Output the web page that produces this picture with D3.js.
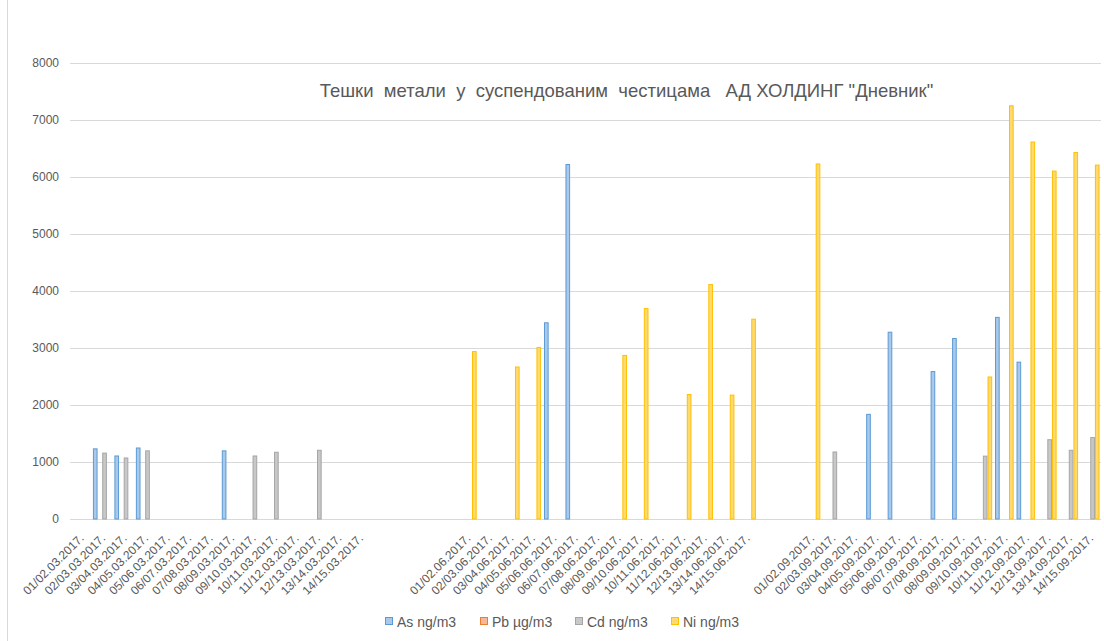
<!DOCTYPE html>
<html><head><meta charset="utf-8">
<script src="https://cdn.jsdelivr.net/npm/d3@7"></script>
<style>body{margin:0;background:#fff}svg{display:block}</style>
</head><body>
<script>
const marchLabels = ["01/02.03.2017.","02/03.03.2017.","03/04.03.2017.","04/05.03.2017.","05/06.03.2017.","06/07.03.2017.","07/08.03.2017.","08/09.03.2017.","09/10.03.2017.","10/11.03.2017.","11/12.03.2017.","12/13.03.2017.","13/14.03.2017.","14/15.03.2017."];
const juneLabels = ["01/02.06.2017.","02/03.06.2017.","03/04.06.2017.","04/05.06.2017.","05/06.06.2017.","06/07.06.2017.","07/08.06.2017.","08/09.06.2017.","09/10.06.2017.","10/11.06.2017.","11/12.06.2017.","12/13.06.2017.","13/14.06.2017.","14/15.06.2017."];
const septLabels = ["01/02.09.2017.","02/03.09.2017.","03/04.09.2017.","04/05.09.2017.","05/06.09.2017.","06/07.09.2017.","07/08.09.2017.","08/09.09.2017.","09/10.09.2017.","10/11.09.2017.","11/12.09.2017.","12/13.09.2017.","13/14.09.2017.","14/15.09.2017."];
const categories = [...marchLabels, "", "", "", "", ...juneLabels, "", "", ...septLabels];

const seriesNames = ["As ng/m3", "Pb µg/m3", "Cd ng/m3", "Ni ng/m3"];
const _ = null;
// March (14), gap (4), June (14), gap (2), September (14)
const asValues = [_,1230,1105,1245,_,_,_,1195,_,_,_,_,_,_, _,_,_,_, _,_,_,_,3440,6215,_,_,_,_,_,_,_,_, _,_, _,_,_,1835,3275,_,2585,3165,_,3535,2750,_,_,_];
const pbValues = [_,_,_,_,_,_,_,_,_,_,_,_,_,_, _,_,_,_, _,_,_,_,_,_,_,_,_,_,_,_,_,_, _,_, _,_,_,_,_,_,_,_,_,_,_,_,_,_];
const cdValues = [_,1155,1070,1195,_,_,_,_,1105,1170,_,1205,_,_, _,_,_,_, _,_,_,_,_,_,_,_,_,_,_,_,_,_, _,_, _,1175,_,_,_,_,_,_,1102,_,_,1390,1205,1428];
const niValues = [_,_,_,_,_,_,_,_,_,_,_,_,_,_, _,_,_,_, 2935,_,2665,3008,_,_,_,2868,3690,_,2183,4110,2172,3503, _,_, 6225,_,_,_,_,_,_,_,2490,7245,6610,6100,6425,6205];
const yTicks = [0,1000,2000,3000,4000,5000,6000,7000,8000];
const title = "Тешки  метали  у  суспендованим  честицама   АД ХОЛДИНГ \"Дневник\"";

const fills = ["#a9c8ea", "#f7b899", "#c8c8c8", "#ffd972"];
const strokes = ["#5b9bd5", "#ed7d31", "#a5a5a5", "#ffc000"];

const W = 1104, H = 641;
const svg = d3.select("body").append("svg").attr("width", W).attr("height", H);
const font = "'Liberation Sans', Arial, sans-serif";
const gray = "#595959";

// chart border
svg.append("rect").attr("x", 7.5).attr("y", -2).attr("width", W + 10).attr("height", H + 10)
  .attr("fill", "none").attr("stroke", "#d9d9d9");

const x0 = 70, x1 = 1101, yTop = 62.7, yBot = 519;
const x = d3.scaleBand().domain(d3.range(categories.length)).range([x0, x1])
  .paddingInner(0.134).paddingOuter(0.067);
const xs = d3.scaleBand().domain(d3.range(4)).range([0, x.bandwidth()]);
const y = d3.scaleLinear().domain([0, 8000]).range([yBot, yTop]);

// gridlines
svg.append("g").selectAll("line").data(yTicks).join("line")
  .attr("x1", x0).attr("x2", x1).attr("y1", d => Math.round(y(d)) + 0.5).attr("y2", d => Math.round(y(d)) + 0.5)
  .attr("stroke", "#d9d9d9").attr("stroke-width", 1);

// y axis labels
const yAxis = d3.axisLeft(y).tickValues(yTicks).tickSize(0).tickPadding(0).tickFormat(d3.format("d"));
const gy = svg.append("g").attr("transform", `translate(${x0 - 11},0)`).call(yAxis);
gy.select(".domain").remove();
gy.selectAll("text").attr("fill", gray).style("font-family", font).style("font-size", "12px");

// bars
const all = [asValues, pbValues, cdValues, niValues];
all.forEach((vals, si) => {
  svg.append("g").selectAll("rect").data(vals.map((v, i) => ({v, i})).filter(d => d.v != null)).join("rect")
    .attr("x", d => x(d.i) + xs(si) + 0.5)
    .attr("width", xs.bandwidth() - 1)
    .attr("y", d => y(d.v))
    .attr("height", d => yBot - y(d.v))
    .attr("fill", fills[si]).attr("stroke", strokes[si]).attr("stroke-width", 1);
});

// x axis labels
const xAxis = d3.axisBottom(x).tickSize(0).tickFormat(i => categories[i]);
const gx = svg.append("g").attr("transform", `translate(0,${yBot})`).call(xAxis);
gx.select(".domain").remove();
gx.selectAll("text").attr("fill", gray).style("font-family", font).style("font-size", "12px")
  .attr("text-anchor", "end").attr("dy", "0.35em").attr("y", 0)
  .attr("transform", "translate(1,17) rotate(-45)");

// title
svg.append("text").attr("x", 626.5).attr("y", 97).attr("text-anchor", "middle")
  .attr("fill", gray).style("font-family", font).style("font-size", "18.5px")
  .style("white-space", "pre").attr("xml:space", "preserve").text(title);

// legend
const lx = [385, 480, 575, 671];
const lg = svg.append("g");
seriesNames.forEach((n, i) => {
  lg.append("rect").attr("x", lx[i] + 0.5).attr("y", 617.5).attr("width", 7).attr("height", 7)
    .attr("fill", fills[i]).attr("stroke", strokes[i]);
  lg.append("text").attr("x", lx[i] + 12).attr("y", 626.5).attr("fill", gray)
    .style("font-family", font).style("font-size", "14px").text(n);
});
</script>
</body></html>
